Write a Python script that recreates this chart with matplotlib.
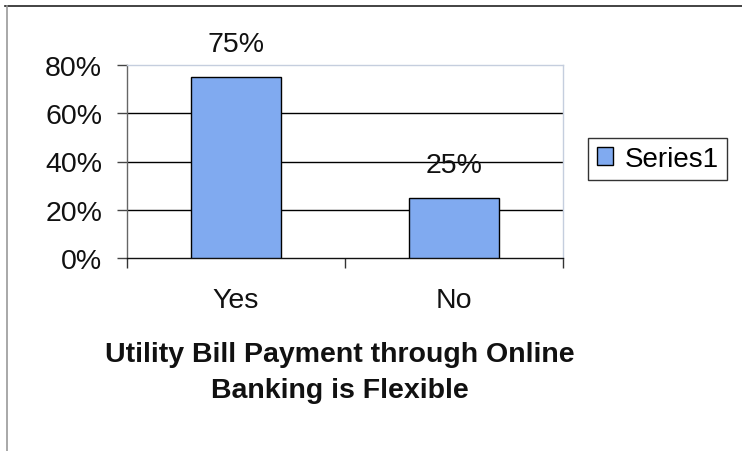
import matplotlib
matplotlib.use("Agg")
import matplotlib.pyplot as plt
from matplotlib.lines import Line2D

categories = ["Yes", "No"]
values = [75, 25]
value_labels = ["75%", "25%"]
yticks = [0, 20, 40, 60, 80]
ytick_labels = ["0%", "20%", "40%", "60%", "80%"]
series_name = "Series1"
title = "Utility Bill Payment through Online\nBanking is Flexible"

plt.rcParams['font.family'] = ['Liberation Sans', 'DejaVu Sans']

W, H = 742, 452
FS = 20.5
fig = plt.figure(figsize=(W / 100, H / 100), dpi=100)
ax = fig.add_axes([127 / W, 1 - 259.3 / H, 436 / W, 193.6 / H])

x = list(range(len(categories)))
bars = ax.bar(x, values, width=0.41, color="#80aaf0", edgecolor="black",
              linewidth=1.0, label=series_name, zorder=3)
for xi, v, lab in zip(x, values, value_labels):
    ax.text(xi, v + 13.7, lab, ha="center", va="center", fontsize=FS, color="#111111")

ax.set_xlim(-0.5, len(categories) - 0.5)
ax.set_ylim(0, 80)
ax.set_yticks(yticks)
ax.set_yticklabels(ytick_labels, fontsize=FS, color="#111111")
ax.set_xticks(x)
ax.set_xticklabels(categories, fontsize=FS, color="#111111")
ax.set_xticks([-0.5, 0.5, 1.5], minor=True)
ax.tick_params(axis="x", which="major", length=0, pad=21)
ax.tick_params(axis="x", which="minor", length=7, width=1, direction="out", color="#333333")
ax.tick_params(axis="y", which="major", length=7, width=1, direction="out", pad=11, color="#444444")

for yv in yticks[1:-1]:
    ax.axhline(yv, color="black", linewidth=1.0, zorder=1)

ax.spines["top"].set_color("#c5cede")
ax.spines["right"].set_color("#c5cede")
ax.spines["left"].set_color("#666666")
ax.spines["bottom"].set_color("#111111")
for s in ax.spines.values():
    s.set_linewidth(1.0)

leg = fig.legend(handles=[bars], labels=[series_name], loc="center",
                 bbox_to_anchor=(657.5 / W, 1 - 160 / H), fontsize=20,
                 handlelength=0.6, handleheight=0.6, handletextpad=0.4,
                 borderpad=0.3, fancybox=False, framealpha=1,
                 edgecolor="#333333")
leg.get_frame().set_linewidth(1.0)

fig.text(340 / W, 1 - 373 / H, title, ha="center", va="center",
         fontsize=FS, fontweight="bold", linespacing=1.5, color="#111111")

fig.add_artist(Line2D([5 / W, 1], [1 - 7 / H, 1 - 7 / H], transform=fig.transFigure,
                      color="#222222", linewidth=1.2))
fig.add_artist(Line2D([7 / W, 7 / W], [0, 1 - 7 / H], transform=fig.transFigure,
                      color="#999999", linewidth=1.2))

fig.savefig("out.png", dpi=100)
